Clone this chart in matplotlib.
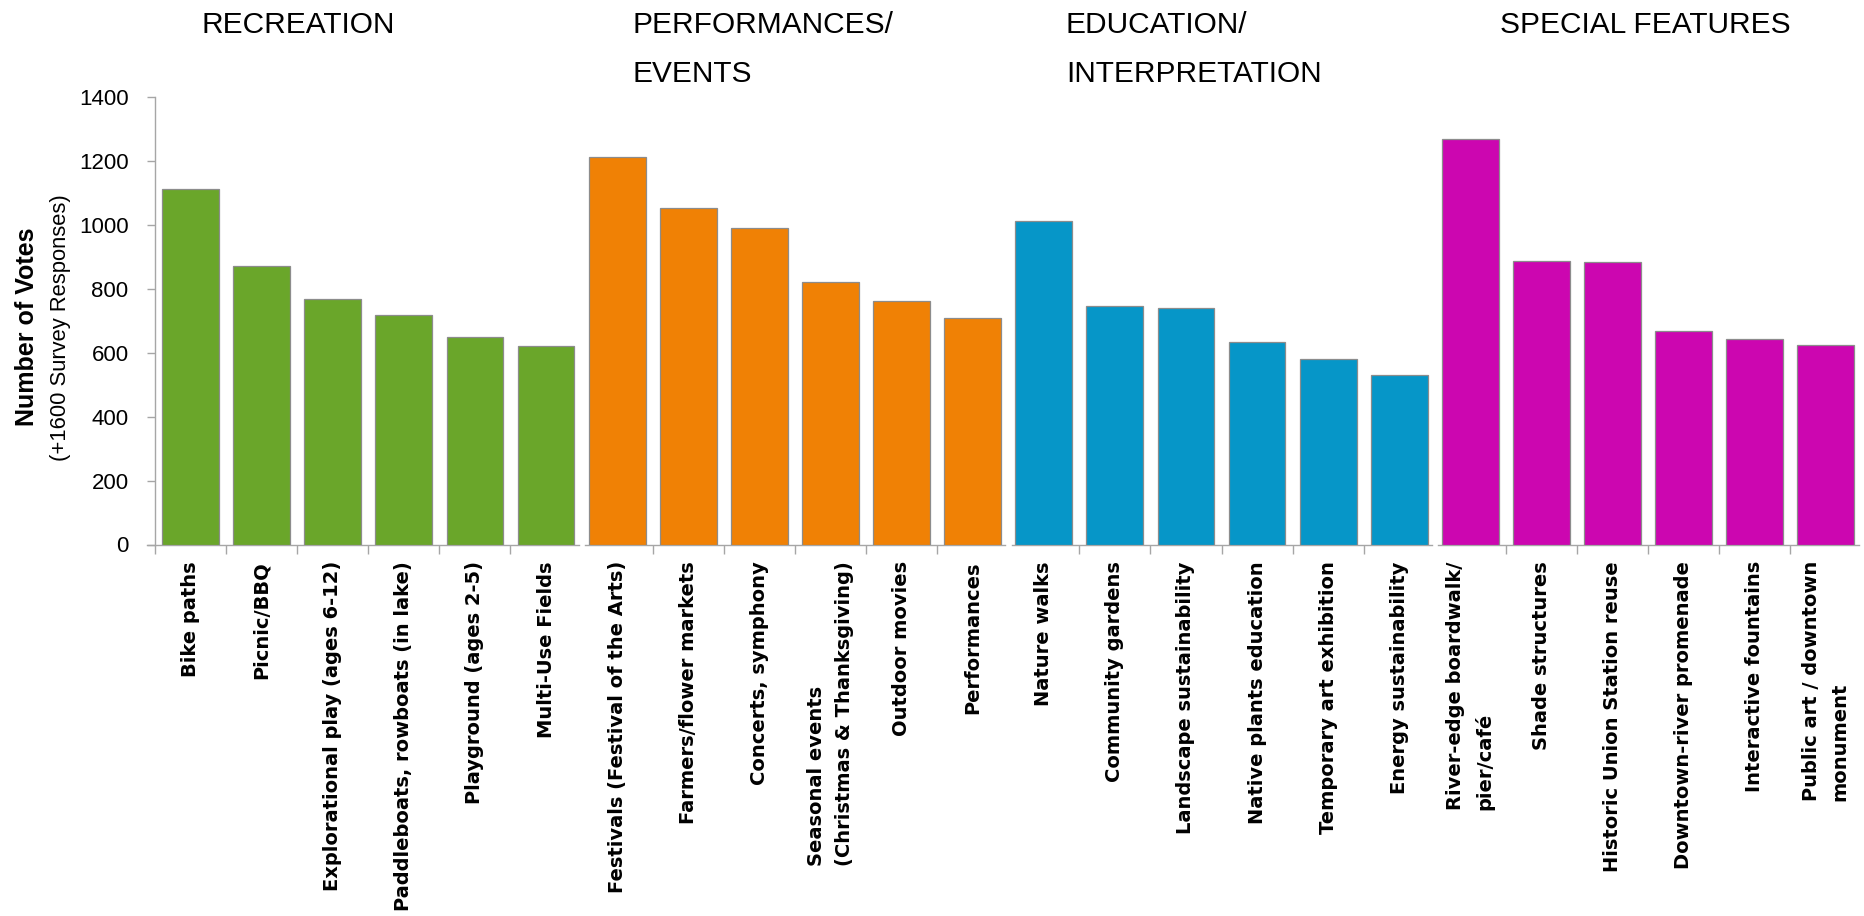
import matplotlib
matplotlib.use("Agg")
import matplotlib.pyplot as plt
from matplotlib import font_manager

# ---------------- data ----------------
group_titles = ["RECREATION", "PERFORMANCES/\nEVENTS",
                "EDUCATION/\nINTERPRETATION", "SPECIAL FEATURES"]

recreation_labels = ["Bike paths", "Picnic/BBQ", "Explorational play (ages 6-12)",
                     "Paddleboats, rowboats (in lake)", "Playground (ages 2-5)",
                     "Multi-Use Fields"]
recreation_votes = [1112, 870, 767, 718, 650, 622]

performance_labels = ["Festivals (Festival of the Arts)", "Farmers/flower markets",
                      "Concerts, symphony",
                      "Seasonal events\n(Christmas & Thanksgiving)",
                      "Outdoor movies", "Performances"]
performance_votes = [1213, 1052, 990, 821, 762, 710]

education_labels = ["Nature walks", "Community gardens", "Landscape sustainability",
                    "Native plants education", "Temporary art exhibition",
                    "Energy sustainability"]
education_votes = [1013, 745, 739, 632, 579, 531]

special_labels = ["River-edge boardwalk/\npier/café", "Shade structures",
                  "Historic Union Station reuse", "Downtown-river promenade",
                  "Interactive fountains", "Public art / downtown\nmonument"]
special_votes = [1268, 888, 883, 667, 642, 625]

y_ticks = [0, 200, 400, 600, 800, 1000, 1200, 1400]

# ---------------- styling ----------------
names = {f.name for f in font_manager.fontManager.ttflist}
NARROW = "Liberation Sans Narrow" if "Liberation Sans Narrow" in names else "Liberation Sans"

colors = ["#6AA62A", "#F08105", "#0696C8", "#CC06B0"]
edge_col = "#8C8C8C"
axis_col = "#A6A6A6"

W, H = 1865, 916
fig = plt.figure(figsize=(W / 100, H / 100), dpi=100)

group_labels = [recreation_labels, performance_labels, education_labels, special_labels]
group_votes = [recreation_votes, performance_votes, education_votes, special_votes]

x0_px = 155.0
grp_w_px = 426.6
y0_px = 544.5      # pixel row of value 0 (from top)
ytop_px = 97.0     # pixel row of value 1400
slot_px = grp_w_px / 6

title_x_px = [202, 633, 1066, 1500]
title_base_px = [33, 82]

for k in range(4):
    left = (x0_px + k * grp_w_px) / W
    bottom = (H - y0_px) / H
    height = (y0_px - ytop_px) / H
    ax = fig.add_axes([left, bottom, grp_w_px / W, height])
    labels = group_labels[k]
    votes = group_votes[k]
    xs = list(range(len(votes)))
    ax.bar(xs, votes, width=0.8, color=colors[k], edgecolor=edge_col, linewidth=0.9,
           zorder=3)
    ax.set_xlim(-0.5, 5.5)
    ax.set_ylim(0, 1400)
    for s in ["top", "right"]:
        ax.spines[s].set_visible(False)
    ax.spines["bottom"].set_color(axis_col)
    ax.spines["bottom"].set_linewidth(1.0)
    if k == 0:
        ax.spines["bottom"].set_bounds(-0.5 - 8 / slot_px, 5.5 - 0.04)
        ax.spines["left"].set_color(axis_col)
        ax.spines["left"].set_linewidth(1.0)
        ax.set_yticks(y_ticks)
        ax.set_yticklabels([str(v) for v in y_ticks], fontsize=16, family=NARROW)
        ax.tick_params(axis="y", length=6, width=1.0, color=axis_col, pad=13,
                       labelcolor="black")
        minor = [-0.5] + [i + 0.5 for i in range(5)]
    else:
        ax.spines["left"].set_visible(False)
        ax.spines["bottom"].set_bounds(-0.5 + 0.05, 5.5 - 0.04)
        ax.set_yticks([])
        minor = [i + 0.5 for i in range(5)]
    ax.set_xticks(xs)
    ax.set_xticklabels(labels, rotation=90, fontsize=14, fontweight="bold",
                       family="DejaVu Sans", linespacing=1.6)
    for t in ax.get_xticklabels():
        t.set_multialignment("left")
    ax.tick_params(axis="x", which="major", length=0, pad=12)
    ax.set_xticks(minor, minor=True)
    ax.tick_params(axis="x", which="minor", length=6.5, width=1.0, color=axis_col,
                   direction="out")

    # group title
    for li, line in enumerate(group_titles[k].split("\n")):
        fig.text(title_x_px[k] / W, (H - title_base_px[li]) / H, line,
                 fontsize=21.5, family=NARROW, ha="left", va="baseline")

# y axis labels
fig.text(27 / W, (H - 327) / H, "Number of Votes", rotation=90, fontsize=18,
         fontweight="bold", family=NARROW, ha="center", va="center")
fig.text(61 / W, (H - 328) / H, "(+1600 Survey Responses)", rotation=90,
         fontsize=15.8, family=NARROW, ha="center", va="center")

fig.savefig("out.png", dpi=100)
